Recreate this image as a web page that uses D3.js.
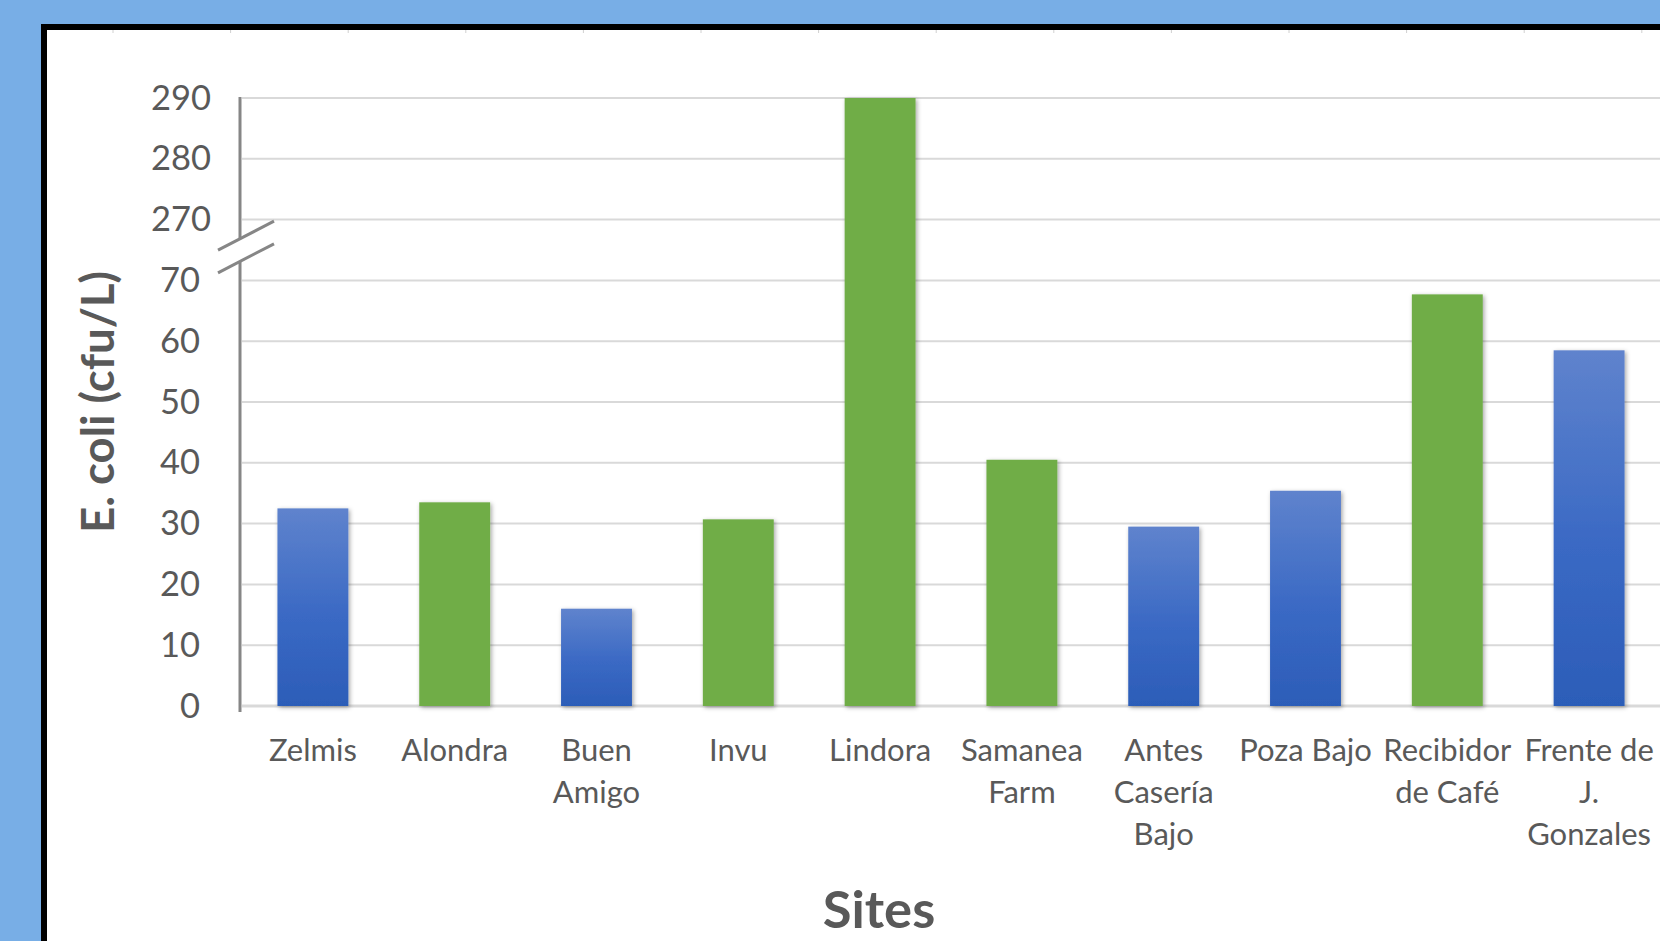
<!DOCTYPE html>
<html>
<head>
<meta charset="utf-8">
<script src="https://cdn.jsdelivr.net/npm/d3@7"></script>
<style>
  html, body { margin: 0; padding: 0; background: #78aee6; overflow: hidden; }
  svg { display: block; font-family: Lato, "Open Sans", sans-serif; }
</style>
</head>
<body>
<div id="chart"></div>
<script>
// site names, split the way the axis wraps them
const siteLabels = [
  ['Zelmis'], ['Alondra'], ['Buen', 'Amigo'], ['Invu'], ['Lindora'],
  ['Samanea', 'Farm'], ['Antes', 'Casería', 'Bajo'], ['Poza Bajo'],
  ['Recibidor', 'de Café'], ['Frente de', 'J.', 'Gonzales']
];
const ecoliValues = [32.5, 33.5, 16, 30.7, 290, 40.5, 29.5, 35.4, 67.7, 58.5];
const siteGroup = ['blue', 'green', 'blue', 'green', 'green', 'green', 'blue', 'blue', 'green', 'blue'];
const lowerTicks = [0, 10, 20, 30, 40, 50, 60, 70];
const upperTicks = [270, 280, 290];
const yLabel = 'E. coli (cfu/L)';
const xLabel = 'Sites';

class BarChart {
  constructor(_config) {
    this.config = {
      parentElement: _config.parentElement,
      containerWidth: 1660,
      containerHeight: 941,
      axisX: 240,
      plotLeft: 242,
      plotRight: 1660,
      plotBottom: 706,
      step: 60.8
    };
    this.initVis();
  }

  initVis() {
    const vis = this;
    const c = vis.config;

    vis.svg = d3.select(c.parentElement).append('svg')
      .attr('width', c.containerWidth)
      .attr('height', c.containerHeight);

    const defs = vis.svg.append('defs');
    const grad = defs.append('linearGradient')
      .attr('id', 'blueGrad')
      .attr('x1', 0).attr('y1', 0).attr('x2', 0).attr('y2', 1);
    grad.append('stop').attr('offset', '0%').attr('stop-color', '#5f83cd');
    grad.append('stop').attr('offset', '55%').attr('stop-color', '#3a69c4');
    grad.append('stop').attr('offset', '100%').attr('stop-color', '#2c5db8');

    const shadow = defs.append('filter').attr('id', 'shadow')
      .attr('x', '-20%').attr('y', '-5%').attr('width', '140%').attr('height', '110%');
    shadow.append('feDropShadow')
      .attr('dx', 1.5).attr('dy', 1.5).attr('stdDeviation', 2.2)
      .attr('flood-color', '#000').attr('flood-opacity', 0.35);

    // slide frame: black border + white panel
    vis.svg.append('rect')
      .attr('x', 41).attr('y', 24)
      .attr('width', c.containerWidth).attr('height', c.containerHeight)
      .attr('fill', '#000');
    vis.svg.append('rect')
      .attr('x', 47).attr('y', 30)
      .attr('width', c.containerWidth).attr('height', c.containerHeight)
      .attr('fill', '#fff');

    // faint ruler ticks along the top of the panel
    vis.svg.selectAll('.top-tick')
      .data(d3.range(113, 1660, 117.6))
      .enter().append('line')
      .attr('x1', d => d).attr('x2', d => d)
      .attr('y1', 30).attr('y2', 33)
      .attr('stroke', '#d0d0d0').attr('stroke-width', 1);

    vis.xScale = d3.scaleBand()
      .domain(d3.range(siteLabels.length))
      .range([c.plotLeft, c.plotRight])
      .padding(0);

    // broken axis: 0-70 then 270-290, one step of space for the gap
    vis.yScale = d3.scaleLinear()
      .domain([0, 70, 270, 290])
      .range([c.plotBottom, c.plotBottom - 7 * c.step, c.plotBottom - 8 * c.step, c.plotBottom - 10 * c.step]);

    vis.chartArea = vis.svg.append('g');
  }

  renderVis() {
    const vis = this;
    const c = vis.config;
    const y = vis.yScale;

    vis.chartArea.selectAll('.grid-line')
      .data(lowerTicks.concat(upperTicks))
      .enter().append('line')
      .attr('class', 'grid-line')
      .attr('x1', c.axisX + 2)
      .attr('x2', c.containerWidth)
      .attr('y1', d => y(d))
      .attr('y2', d => y(d))
      .attr('stroke', '#d9d9d9')
      .attr('stroke-width', d => d === 0 ? 3 : 2);

    const bw = vis.xScale.bandwidth() * 0.5;
    vis.chartArea.selectAll('.bar')
      .data(ecoliValues)
      .enter().append('rect')
      .attr('class', 'bar')
      .attr('x', (d, i) => vis.xScale(i) + (vis.xScale.bandwidth() - bw) / 2)
      .attr('y', d => y(d))
      .attr('width', bw)
      .attr('height', d => y(0) - y(d))
      .attr('fill', (d, i) => siteGroup[i] === 'blue' ? 'url(#blueGrad)' : '#70ad47')
      .attr('filter', 'url(#shadow)');

    // y axes (two segments)
    const lowerAxis = vis.chartArea.append('g')
      .attr('transform', `translate(${c.axisX},0)`)
      .call(d3.axisLeft(y).tickValues(lowerTicks).tickSize(0).tickPadding(40));
    const upperAxis = vis.chartArea.append('g')
      .attr('transform', `translate(${c.axisX},0)`)
      .call(d3.axisLeft(y).tickValues(upperTicks).tickSize(0).tickPadding(29));
    [lowerAxis, upperAxis].forEach(ax => {
      ax.select('.domain').remove();
      ax.selectAll('text')
        .attr('font-size', 34.5)
        .attr('font-family', 'Lato, sans-serif')
        .attr('fill', '#595959');
    });

    vis.chartArea.append('line')
      .attr('x1', c.axisX).attr('x2', c.axisX)
      .attr('y1', y(290) - 1).attr('y2', c.plotBottom + 6)
      .attr('stroke', '#868686').attr('stroke-width', 3);

    // break marks
    const cy = (y(70) + y(270)) / 2 - 3;
    const cx = c.axisX + 6;
    const hx = 28, hy = 14.5, gap = 11.3;
    vis.chartArea.append('polygon')
      .attr('points', [
        [cx - hx, cy - gap + hy], [cx + hx, cy - gap - hy],
        [cx + hx, cy + gap - hy], [cx - hx, cy + gap + hy]
      ].map(p => p.join(',')).join(' '))
      .attr('fill', '#fff');
    [-gap, gap].forEach(off => {
      vis.chartArea.append('line')
        .attr('x1', cx - hx).attr('y1', cy + off + hy)
        .attr('x2', cx + hx).attr('y2', cy + off - hy)
        .attr('stroke', '#868686').attr('stroke-width', 3);
    });

    // category labels
    const labels = vis.chartArea.selectAll('.x-label')
      .data(siteLabels)
      .enter().append('text')
      .attr('class', 'x-label')
      .attr('text-anchor', 'middle')
      .attr('font-size', 31)
      .attr('fill', '#595959')
      .attr('transform', (d, i) => `translate(${vis.xScale(i) + vis.xScale.bandwidth() / 2},761)`);
    labels.selectAll('tspan')
      .data(d => d)
      .enter().append('tspan')
      .attr('x', 0)
      .attr('y', (d, i) => i * 42)
      .text(d => d);

    vis.svg.append('text')
      .attr('transform', 'translate(114,402) rotate(-90)')
      .attr('text-anchor', 'middle')
      .attr('font-size', 45.5)
      .attr('font-weight', 'bold')
      .attr('fill', '#595959')
      .text(yLabel);

    vis.svg.append('text')
      .attr('x', 879).attr('y', 928)
      .attr('text-anchor', 'middle')
      .attr('font-size', 52.5)
      .attr('font-weight', 'bold')
      .attr('fill', '#595959')
      .text(xLabel);
  }
}

const chart = new BarChart({ parentElement: '#chart' });
chart.renderVis();
</script>
</body>
</html>
